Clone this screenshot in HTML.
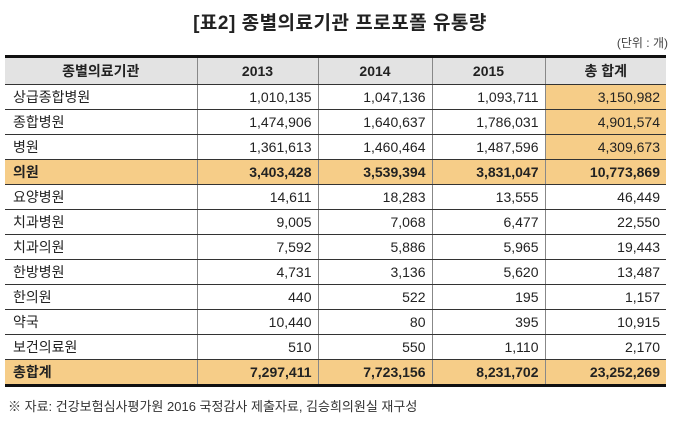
<!DOCTYPE html>
<html><head><meta charset="utf-8"><style>
body{margin:0;width:680px;height:427px;background:#fff;font-family:"Liberation Sans","Noto Sans CJK KR",sans-serif;color:#222;position:relative;overflow:hidden}
#title{position:absolute;top:8px;left:0;width:680px;text-align:center;font-size:19px;font-weight:bold;letter-spacing:0.5px}
#unit{position:absolute;top:34px;right:12px;font-size:12px;color:#444}
table{position:absolute;top:55px;left:5px;width:661px;border-collapse:collapse;font-size:14px;border-top:3px solid #111;border-bottom:3px solid #111}
td,th{height:24px;padding:0 6px;border-bottom:1px solid #333;border-left:1px solid #888}
td:first-child,th:first-child{border-left:none}
th{background:#e3e3e3;font-weight:bold;height:26px;border-bottom:1px solid #333}
td{text-align:right}
td:first-child{text-align:left;padding-left:8px}
.o td{background:#f6cd88;font-weight:bold}
.t{background:#f6cd88}
#note{position:absolute;top:396px;left:8px;font-size:13px;color:#333}
</style></head><body>
<div id="title">[표2] 종별의료기관 프로포폴 유통량</div>
<div id="unit">(단위 : 개)</div>
<table>
<colgroup><col style="width:192px"><col style="width:121px"><col style="width:114px"><col style="width:113px"><col style="width:121px"></colgroup>
<tr><th>종별의료기관</th><th>2013</th><th>2014</th><th>2015</th><th>총 합계</th></tr>
<tr><td>상급종합병원</td><td>1,010,135</td><td>1,047,136</td><td>1,093,711</td><td class="t">3,150,982</td></tr>
<tr><td>종합병원</td><td>1,474,906</td><td>1,640,637</td><td>1,786,031</td><td class="t">4,901,574</td></tr>
<tr><td>병원</td><td>1,361,613</td><td>1,460,464</td><td>1,487,596</td><td class="t">4,309,673</td></tr>
<tr class="o"><td>의원</td><td>3,403,428</td><td>3,539,394</td><td>3,831,047</td><td>10,773,869</td></tr>
<tr><td>요양병원</td><td>14,611</td><td>18,283</td><td>13,555</td><td>46,449</td></tr>
<tr><td>치과병원</td><td>9,005</td><td>7,068</td><td>6,477</td><td>22,550</td></tr>
<tr><td>치과의원</td><td>7,592</td><td>5,886</td><td>5,965</td><td>19,443</td></tr>
<tr><td>한방병원</td><td>4,731</td><td>3,136</td><td>5,620</td><td>13,487</td></tr>
<tr><td>한의원</td><td>440</td><td>522</td><td>195</td><td>1,157</td></tr>
<tr><td>약국</td><td>10,440</td><td>80</td><td>395</td><td>10,915</td></tr>
<tr><td>보건의료원</td><td>510</td><td>550</td><td>1,110</td><td>2,170</td></tr>
<tr class="o"><td>총합계</td><td>7,297,411</td><td>7,723,156</td><td>8,231,702</td><td>23,252,269</td></tr>
</table>
<div id="note">※ 자료: 건강보험심사평가원 2016 국정감사 제출자료, 김승희의원실 재구성</div>
</body></html>
